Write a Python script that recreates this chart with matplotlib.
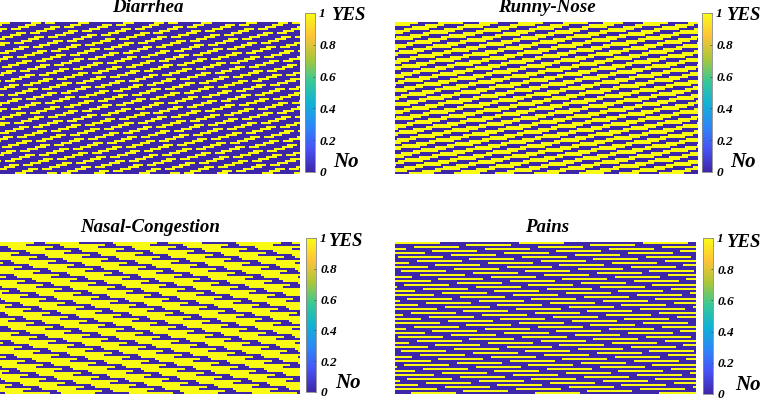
import numpy as np
import matplotlib
matplotlib.use("Agg")
import matplotlib.pyplot as plt
from matplotlib.colors import LinearSegmentedColormap as L

W, H = 762, 401
titles = ["Diarrhea", "Runny-Nose", "Nasal-Congestion", "Pains"]
ticks = [0, 0.2, 0.4, 0.6, 0.8, 1]
ticklabels = ["0", "0.2", "0.4", "0.6", "0.8", "1"]

# Horizontal shift of each row's pattern, read row by row (columns).
row_shift = [0, 71, 19, 90, 37, 109, 56, 3, 74, 22, 93, 40, 112, 59, 6, 78, 25, 96, 43, 115,
             62, 9, 81, 28, 99, 47, 118, 65, 12, 84, 31, 102, 50, 121, 68, 16, 87, 34, 105, 53,
             0, 71, 19, 90, 37, 109, 56, 3, 74, 22, 93, 40, 112, 59, 6, 78, 25, 96, 43, 115,
             62, 9, 81, 28, 99, 47, 118, 65, 12, 84, 31, 102, 50, 121, 68, 16]
repeat_cols = 124
n_cols = 301

# Runs of the minority class in the first row of each panel (start, end columns).
diarrhea_runs = [(45, 55), (78, 89), (123, 134), (155, 165)]
runny_runs = [(23, 43), (68, 83), (102, 122)]
nasal_runs = [(34, 45), (79, 113)]
pains_runs = [(0, 45)]
background = [0, 1, 1, 0]

parula = [(0.2422,0.1504,0.6603),(0.2810,0.3228,0.9579),(0.1786,0.5289,0.9682),(0.0689,0.6948,0.8394),
          (0.2161,0.7843,0.5923),(0.6720,0.7793,0.2227),(0.9970,0.7659,0.2199),(0.9769,0.9839,0.0805)]
cm = L.from_list("parula", parula)

def decode(runs, base):
    g = np.full((len(row_shift), n_cols), base, float)
    for r, shift in enumerate(row_shift):
        for a, b in runs:
            for k in range(-2, 4):
                i0, i1 = a + shift + k*repeat_cols, b + shift + k*repeat_cols
                g[r, max(i0, 0):max(i1, 0)] = 1 - base
    return g

grids = [decode(diarrhea_runs, background[0]), decode(runny_runs, background[1]),
         decode(nasal_runs, background[2]), decode(pains_runs, background[3])]
boxes = [(0,22,300,174),(395,22,697,174),(0,242,300,394),(395,242,696,394)]
cbs = [(305,13,315,172),(702,13,712,172),(306,238,316,392),(703,238,713,394)]
tcx = [148,547,150,547]; tcy=[8,8,227,227]
yes = [(331,15),(726,15),(328,241),(726,242)]
no = [(333,162),(730,162),(335,383),(735,385)]

fig = plt.figure(figsize=(W/100,H/100), dpi=100)
sf = {"family":"Liberation Serif","style":"italic","weight":"bold"}
def rect(b): return [b[0]/W, 1-b[3]/H, (b[2]-b[0])/W, (b[3]-b[1])/H]
for i in range(4):
    ax = fig.add_axes(rect(boxes[i]))
    im = ax.imshow(grids[i], cmap=cm, vmin=0, vmax=1, aspect="auto", interpolation="nearest")
    ax.axis("off")
    cax = fig.add_axes(rect(cbs[i]))
    cb = fig.colorbar(im, cax=cax, ticks=ticks)
    cb.ax.set_yticklabels(ticklabels, fontsize=9.5, **sf)
    cb.ax.tick_params(direction="in", length=1.5, width=0.5, pad=3, color="#444444")
    cb.outline.set_edgecolor("#888888"); cb.outline.set_linewidth(0.6)
    fig.text(tcx[i]/W, 1-tcy[i]/H, titles[i], ha="center", va="center", fontsize=13.6, **sf)
    fig.text(yes[i][0]/W, 1-yes[i][1]/H, "YES", ha="left", va="center", fontsize=13.5, **sf)
    fig.text(no[i][0]/W, 1-no[i][1]/H, "No", ha="left", va="center", fontsize=15, **sf)
fig.savefig("out.png", dpi=100)
